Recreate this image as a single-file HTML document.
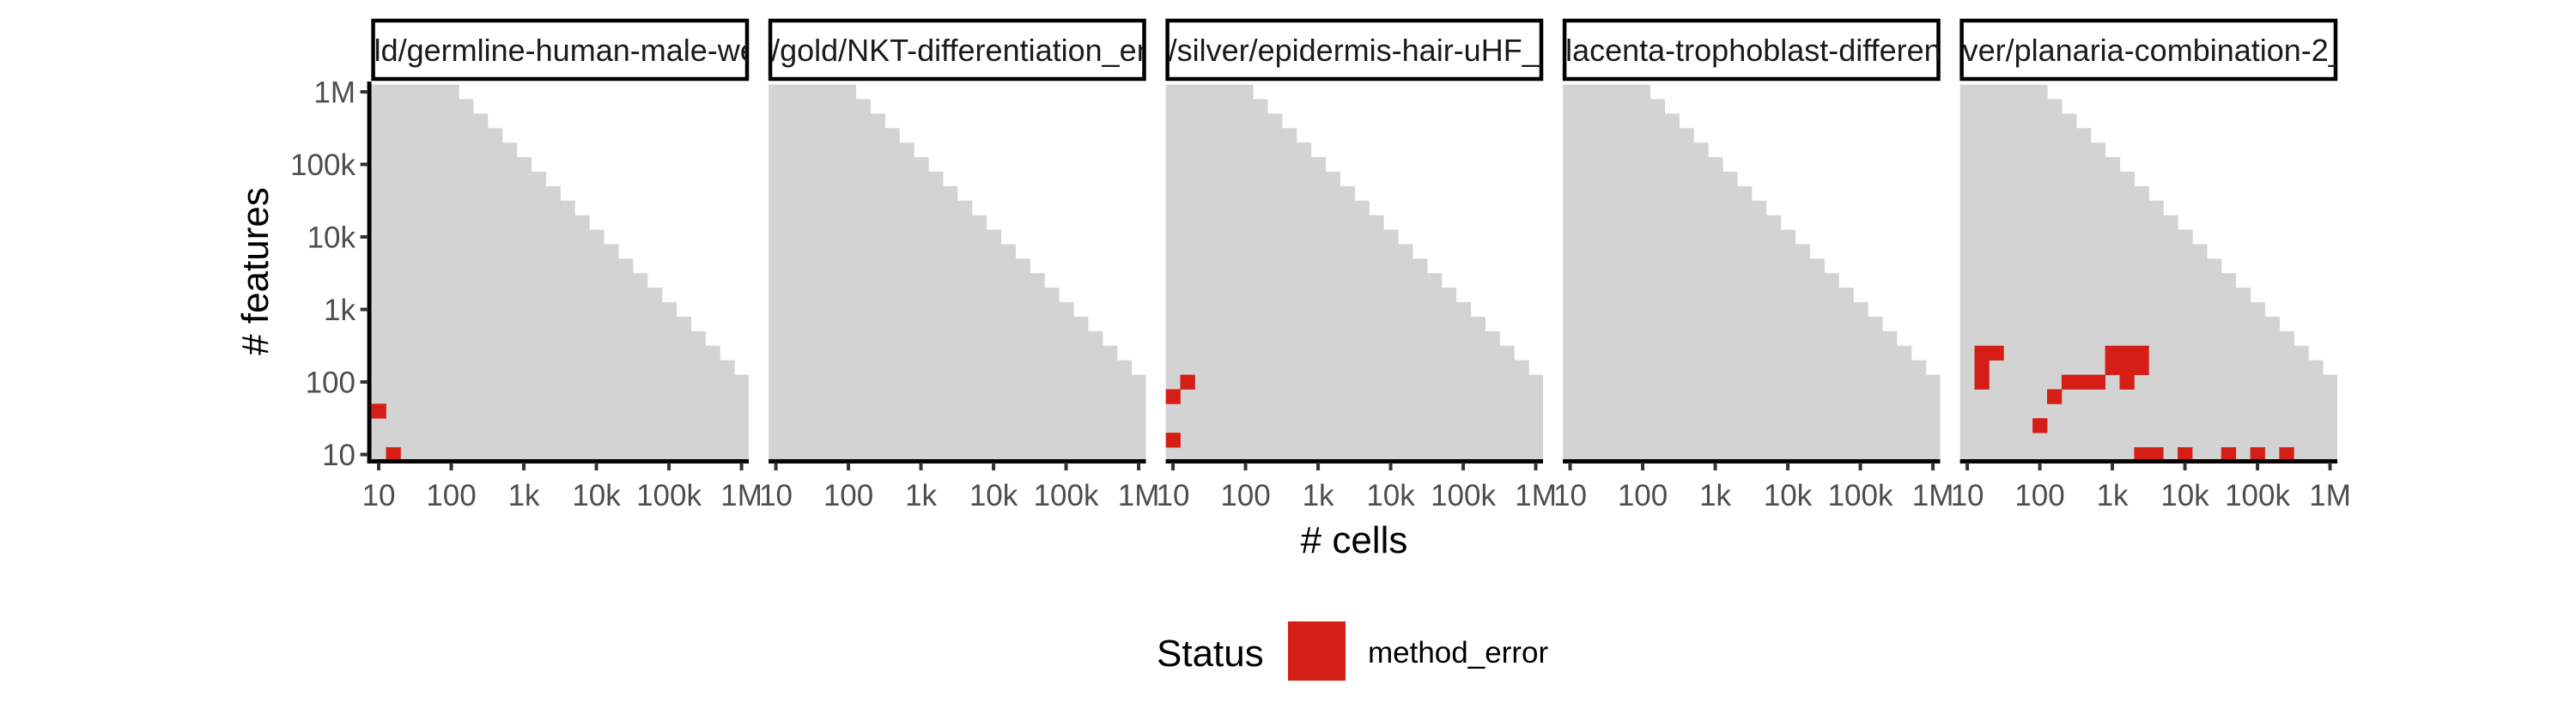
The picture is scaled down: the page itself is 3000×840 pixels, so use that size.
<!DOCTYPE html>
<html><head><meta charset="utf-8"><style>
html,body{margin:0;padding:0;background:#fff;}
svg{display:block;font-family:"Liberation Sans",Arial,sans-serif;}
</style></head><body>
<svg id="chart" width="3000" height="840" viewBox="0 0 3000 840"></svg>
<script>
const panelTitles = ["ld/germline-human-male-weis","/gold/NKT-differentiation_eng","/silver/epidermis-hair-uHF_jo","lacenta-trophoblast-differenti","ver/planaria-combination-2_"];
const cellExps = [1.0,1.2,1.4,1.6,1.8,2.0,2.2,2.4,2.6,2.8,3.0,3.2,3.4,3.6,3.8,4.0,4.2,4.4,4.6,4.8,5.0,5.2,5.4,5.6,5.8,6.0];
const featExps = [1.0,1.2,1.4,1.6,1.8,2.0,2.2,2.4,2.6,2.8,3.0,3.2,3.4,3.6,3.8,4.0,4.2,4.4,4.6,4.8,5.0,5.2,5.4,5.6,5.8,6.0];
const maxProductExp = 8;
const errPanel = [0,0,2,2,2,4,4,4,4,4,4,4,4,4,4,4,4,4,4,4,4,4,4,4,4,4];
const errCells = [1.0,1.2,1.0,1.0,1.2,1.2,1.4,1.2,1.2,2.2,2.0,2.4,2.6,2.8,3.0,3.2,3.4,3.0,3.2,3.4,3.2,3.4,3.6,4.0,4.6,5.0];
const errFeats = [1.6,1.0,1.2,1.8,2.0,2.4,2.4,2.2,2.0,1.8,1.4,2.0,2.0,2.0,2.4,2.4,2.4,2.2,2.2,2.2,2.0,1.0,1.0,1.0,1.0,1.0];
const errCells2 = [5.4];
const errFeats2 = [1.0];
const tickExps = [1,2,3,4,5,6];
const tickLabels = ["10","100","1k","10k","100k","1M"];

const NS="http://www.w3.org/2000/svg";
const svg=document.getElementById('chart');
const PANEL_W=439.4, PANEL_GAP=462.5, PANEL_X0=432.6, PANEL_TOP=95, PANEL_BOT=535;
const CELL=PANEL_W/26, DEC=CELL*5;
function xScale(i,e){return PANEL_X0+i*PANEL_GAP+CELL/2+(e-1)*DEC;}
function yScale(e){return 529.5-(e-1)*DEC;}
function mk(tag,attrs,parent){const el=document.createElementNS(NS,tag);for(const k in attrs)el.setAttribute(k,attrs[k]);(parent||svg).appendChild(el);return el;}

const allCells=errCells.concat(errCells2), allFeats=errFeats.concat(errFeats2), allPanels=errPanel.concat([4]);

for(let p=0;p<5;p++){
  const g=mk('g',{});
  
  
  const left=PANEL_X0+p*PANEL_GAP;
  const cp=mk('clipPath',{id:'clip'+p},g);
  mk('rect',{x:left,y:PANEL_TOP,width:PANEL_W,height:PANEL_BOT-PANEL_TOP},cp);
  const body=mk('g',{'clip-path':'url(#clip'+p+')'},g);
  cellExps.forEach(cx=>{featExps.forEach(fy=>{
    if(cx+fy<=maxProductExp+1e-9){
      const r=mk('rect',{x:xScale(p,cx)-CELL/2,y:yScale(fy)-CELL/2,width:CELL+0.6,height:CELL+0.6,fill:'#d3d3d3'},body);
      
      
    }
  });});
  for(let k=0;k<allCells.length;k++){
    if(allPanels[k]!==p)continue;
    const r=mk('rect',{x:xScale(p,allCells[k])-CELL/2,y:yScale(allFeats[k])-CELL/2,width:CELL+0.4,height:CELL+0.4,fill:'#d51f16'},body);
    
    
  }
  const sc=mk('clipPath',{id:'sclip'+p},g);
  mk('rect',{x:left+2,y:22,width:PANEL_W-4,height:73},sc);
  const strip=mk('rect',{x:left+2,y:24,width:PANEL_W-4,height:68,fill:'#fff',stroke:'#000','stroke-width':4.5},g);
  
  
  const st=mk('text',{x:left+3,y:71,'text-anchor':'start','font-size':36,fill:'#1a1a1a','clip-path':'url(#sclip'+p+')'},g);
  st.textContent=panelTitles[p];
  
  
  const ax=mk('line',{x1:left,x2:left+PANEL_W,y1:PANEL_BOT+2.5,y2:PANEL_BOT+2.5,stroke:'#000','stroke-width':5},g);
  
  
  tickExps.forEach((e,i)=>{
    const x=xScale(p,e);
    mk('line',{x1:x,x2:x,y1:PANEL_BOT+4,y2:PANEL_BOT+13,stroke:'#333','stroke-width':4},g);
    const t=mk('text',{x:x,y:589,'text-anchor':'middle','font-size':35,fill:'#4d4d4d'},g);
    t.textContent=tickLabels[i];
    
    
  });
}
const yl=mk('line',{x1:PANEL_X0-2.5,x2:PANEL_X0-2.5,y1:PANEL_TOP,y2:PANEL_BOT+5,stroke:'#000','stroke-width':5});


tickExps.forEach((e,i)=>{
  const y=yScale(e);
  mk('line',{x1:PANEL_X0-13,x2:PANEL_X0-4,y1:y,y2:y,stroke:'#333','stroke-width':4});
  const t=mk('text',{x:414,y:y+12.5,'text-anchor':'end','font-size':35,fill:'#4d4d4d'});
  t.textContent=tickLabels[i];
  
  
});
const xt=mk('text',{x:1577,y:644,'text-anchor':'middle','font-size':44,fill:'#000'});
xt.textContent='# cells';


const yt=mk('text',{x:0,y:0,'text-anchor':'middle','font-size':44,fill:'#000',transform:'translate(312,316) rotate(-90)'});
yt.textContent='# features';


const lg=mk('g',{});


const lt=mk('text',{x:1347,y:776,'font-size':44,fill:'#000'},lg);
lt.textContent='Status';


const lk=mk('rect',{x:1500,y:724,width:67,height:69,fill:'#d51f16'},lg);


const ll=mk('text',{x:1593,y:772,'font-size':35,fill:'#000'},lg);
ll.textContent='method_error';


</script>
</body></html>
